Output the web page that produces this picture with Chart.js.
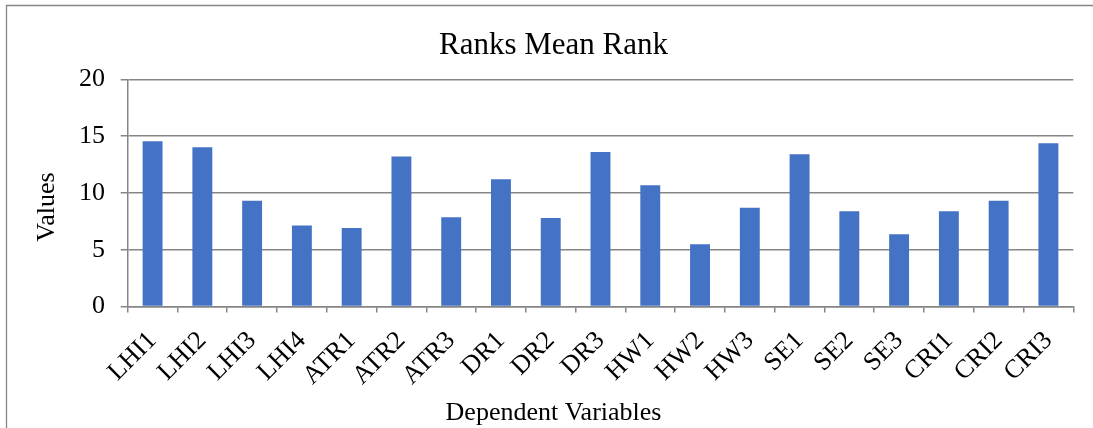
<!DOCTYPE html>
<html><head><meta charset="utf-8">
<script src="https://cdn.jsdelivr.net/npm/chart.js@4.4.0/dist/chart.umd.min.js"></script>
<style>html,body{margin:0;padding:0;background:#fff;overflow:hidden}#wrap{width:1093px;height:428px;position:relative}</style>
</head><body><div id="wrap"><canvas id="c" width="1093" height="428"></canvas></div>
<script>
const categories = ['LHI1','LHI2','LHI3','LHI4','ATR1','ATR2','ATR3','DR1','DR2','DR3','HW1','HW2','HW3','SE1','SE2','SE3','CRI1','CRI2','CRI3'];
const meanRank = [14.55,14.02,9.3,7.12,6.92,13.2,7.85,11.2,7.8,13.6,10.68,5.48,8.7,13.4,8.38,6.36,8.38,9.3,14.38];
const yTicks = [0,5,10,15,20];
const titleText = 'Ranks Mean Rank';
const xTitle = 'Dependent Variables';
const yTitle = 'Values';

const FONT = '"Liberation Serif", "Times New Roman", serif';
const GRID = '#858585';

const framePlugin = {
  id: 'frame',
  beforeDraw(chart) {
    const ctx = chart.ctx;
    ctx.save();
    ctx.strokeStyle = GRID;
    ctx.lineWidth = 1.3;
    ctx.beginPath();
    ctx.moveTo(6.5, 428);
    ctx.lineTo(6.5, 5.5);
    ctx.lineTo(1093, 5.5);
    ctx.stroke();
    ctx.restore();
  }
};
const yTitlePlugin = {
  id: 'yTitleText',
  afterDraw(chart) {
    const ctx = chart.ctx;
    ctx.save();
    ctx.translate(47, 207);
    ctx.rotate(-Math.PI / 2);
    ctx.font = '26px ' + FONT;
    ctx.fillStyle = '#000';
    ctx.textAlign = 'center';
    ctx.textBaseline = 'middle';
    ctx.fillText(yTitle, 0, 0);
    ctx.restore();
  }
};

new Chart(document.getElementById('c'), {
  type: 'bar',
  data: {
    labels: categories,
    datasets: [{ label: 'Mean Rank', data: meanRank, backgroundColor: '#4472C4', borderWidth: 0,
      categoryPercentage: 1.0, barPercentage: 0.4 }]
  },
  options: {
    responsive: false,
    devicePixelRatio: 1,
    animation: false,
    layout: { padding: { left: 33.7, right: 19.7, top: 0, bottom: 0 } },
    plugins: {
      legend: { display: false },
      tooltip: { enabled: false },
      title: { display: true, text: titleText, color: '#000',
        font: { family: FONT, size: 31, weight: 'normal', lineHeight: 1.2 },
        padding: { top: 27.4, bottom: 14.7 } },
      subtitle: { display: true, position: 'bottom', text: xTitle, color: '#000',
        font: { family: FONT, size: 26, weight: 'normal', lineHeight: 1.15 },
        padding: { top: 0, bottom: 0 } }
    },
    scales: {
      x: {
        grid: { drawOnChartArea: false, drawTicks: true, tickLength: 6, color: GRID, lineWidth: 1.5, offset: true },
        border: { display: true, color: GRID, width: 1.5 },
        ticks: { color: '#000', font: { family: FONT, size: 26 }, maxRotation: 45, minRotation: 45, autoSkip: false, padding: 13 },
        afterFit(scale) { scale.height = 91.6; }
      },
      y: {
        min: 0, max: 20,
        afterBuildTicks(scale) { scale.ticks = yTicks.map(v => ({ value: v })); },
        grid: { color: GRID, lineWidth: 1.5, tickLength: 7, drawTicks: true },
        border: { display: true, color: GRID, width: 1.5 },
        ticks: { color: '#000', font: { family: FONT, size: 26 }, padding: 15.7 },
        afterFit(scale) { scale.width = 94; }
      }
    }
  },
  plugins: [framePlugin, yTitlePlugin]
});
</script></body></html>
